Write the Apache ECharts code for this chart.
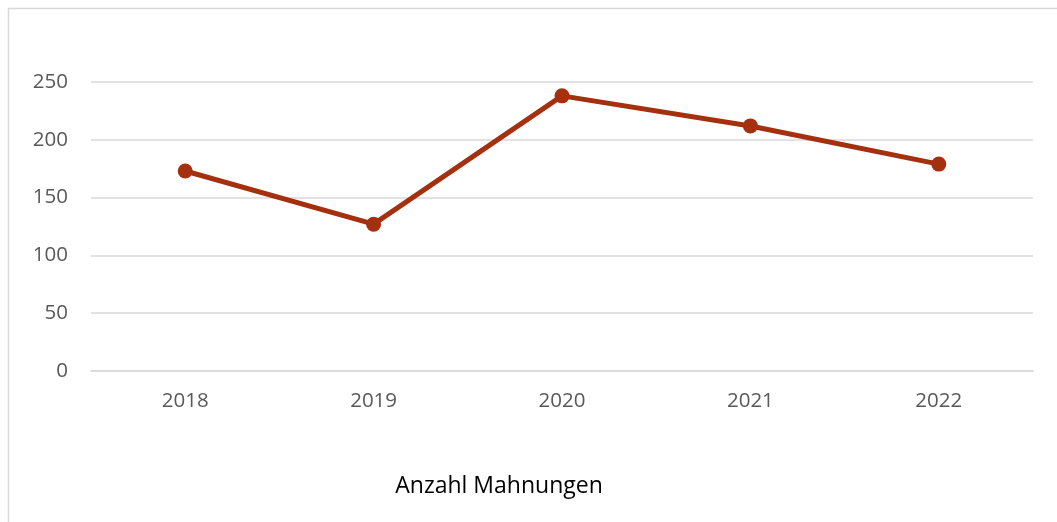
<!DOCTYPE html>
<html>
<head>
<meta charset="utf-8">
<script src="https://cdn.jsdelivr.net/npm/echarts@6/dist/echarts.min.js"></script>
<style>
  html, body { margin: 0; padding: 0; background: #fff; }
  #chart { width: 1057px; height: 522px; }
</style>
</head>
<body>
<div id="chart"></div>
<script>
var years = ["2018", "2019", "2020", "2021", "2022"];
var mahnungen = [173, 127, 238, 212, 179];
var seriesName = "Anzahl Mahnungen";

var myChart = echarts.init(document.getElementById("chart"));
var option = {
  animation: false,
  backgroundColor: "#fff",
  textStyle: { fontFamily: "Open Sans" },
  graphic: [
    {
      type: "rect",
      left: 6,
      top: 6,
      shape: { width: 1070, height: 530 },
      style: { fill: "none", stroke: "#D9D9D9", lineWidth: 1.5 },
      z: -1
    }
  ],
  title: {
    text: seriesName,
    left: 494,
    top: 470,
    textAlign: "center",
    textStyle: { fontSize: 23, fontWeight: "normal", color: "#000", fontFamily: "Open Sans" }
  },
  grid: { left: 91, top: 82, width: 942, height: 289 },
  xAxis: {
    type: "category",
    data: years,
    boundaryGap: true,
    axisLine: { show: true, lineStyle: { color: "#D9D9D9", width: 1.5 } },
    axisTick: { show: false },
    axisLabel: { color: "#595959", fontSize: 20.5, margin: 20, fontFamily: "Open Sans" }
  },
  yAxis: {
    type: "value",
    min: 0,
    max: 250,
    interval: 50,
    axisLine: { show: false },
    axisTick: { show: false },
    splitLine: { lineStyle: { color: "#D9D9D9", width: 1.5 } },
    axisLabel: { color: "#595959", fontSize: 20.5, margin: 23, fontFamily: "Open Sans" }
  },
  series: [
    {
      name: seriesName,
      type: "line",
      data: mahnungen,
      symbol: "circle",
      symbolSize: 15,
      lineStyle: { color: "#A5300F", width: 5 },
      itemStyle: { color: "#A5300F" }
    }
  ]
};
myChart.setOption(option);
</script>
</body>
</html>
